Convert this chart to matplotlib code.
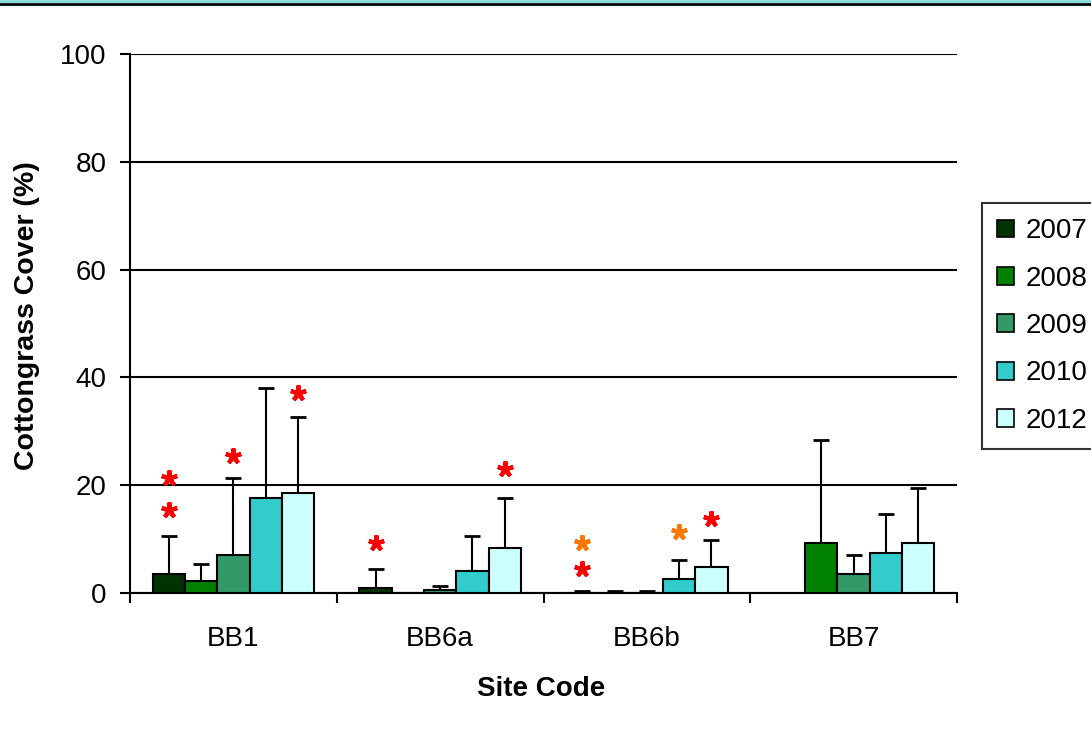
import numpy as np
import matplotlib
matplotlib.use("Agg")
import matplotlib.pyplot as plt
from matplotlib.lines import Line2D

plt.rcParams['font.family'] = ['Liberation Sans', 'DejaVu Sans']

sites = ["BB1", "BB6a", "BB6b", "BB7"]
years = ["2007", "2008", "2009", "2010", "2012"]
colors = ["#003300", "#008000", "#339966", "#33CCCC", "#CCFFFF"]

# mean cover (%) per year, one value per site
mean_2007 = [3.5, 1.0, 0.0, np.nan]
mean_2008 = [2.2, 0.0, 0.0, 9.2]
mean_2009 = [7.0, 0.5, 0.0, 3.5]
mean_2010 = [17.7, 4.0, 2.6, 7.5]
mean_2012 = [18.6, 8.4, 4.9, 9.2]

# upper error (SD) per year
err_2007 = [7.1, 3.4, 0.4, np.nan]
err_2008 = [3.1, 0.0, 0.4, 19.1]
err_2009 = [14.3, 0.8, 0.4, 3.6]
err_2010 = [20.3, 6.6, 3.6, 7.1]
err_2012 = [14.1, 9.3, 4.9, 10.2]

means = [mean_2007, mean_2008, mean_2009, mean_2010, mean_2012]
errs = [err_2007, err_2008, err_2009, err_2010, err_2012]

# significance asterisks: (site index, year index, y value, colour)
star_site = [0, 0, 0, 0, 1, 1, 2, 2, 2, 2]
star_year = [0, 0, 2, 4, 0, 4, 0, 0, 3, 4]
star_y = [15.4, 21.3, 25.4, 37.1, 9.3, 23.0, 4.5, 9.3, 11.3, 13.7]
star_col = ["red", "red", "red", "red", "red", "red", "red", "#FF7700", "#FF7700", "red"]

fig = plt.figure(figsize=(10.91, 7.38), dpi=100)
ax = fig.add_axes([130/1091, 1-593/738, (957-130)/1091, (593-54)/738])

width = 0.156
x = np.arange(len(sites))
lw = 1.5
for j, (m, e) in enumerate(zip(means, errs)):
    pos = x + 0.5 + (j - 2) * width
    m = np.array(m, dtype=float)
    e = np.array(e, dtype=float)
    ax.bar(pos, m, width=width, color=colors[j], edgecolor="black",
           linewidth=lw, label=years[j], zorder=3)
    ax.errorbar(pos, m, yerr=[np.zeros_like(e), e], fmt="none",
                ecolor="black", elinewidth=lw, capsize=6, capthick=2.0, zorder=2)

for s, yi, yv, c in zip(star_site, star_year, star_y, star_col):
    ax.plot(s + 0.5 + (yi - 2) * width, yv, linestyle="none",
            marker=(5, 2, 0), markersize=11.5, markeredgewidth=3.0,
            color=c, markeredgecolor=c, zorder=5)

ax.set_xlim(0, 4)
ax.set_ylim(0, 100)
ax.set_yticks([0, 20, 40, 60, 80, 100])
ax.yaxis.grid(True, color="black", linewidth=lw)
ax.set_axisbelow(True)
for side in ["top", "right"]:
    ax.spines[side].set_visible(False)
for side in ["left", "bottom"]:
    ax.spines[side].set_linewidth(lw)
ax.tick_params(axis="y", direction="out", length=7, width=lw, pad=10, labelsize=20)
ax.set_xticks([0, 1, 2, 3, 4])
ax.set_xticklabels([])
ax.tick_params(axis="x", which="major", direction="out", length=7, width=lw)
ax.set_xticks(x + 0.5, minor=True)
ax.set_xticklabels(sites, minor=True)
ax.tick_params(axis="x", which="minor", length=0, pad=24, labelsize=20)

fig.text(27/1091, 1-316/738, "Cottongrass Cover (%)", rotation=90, ha="center",
         va="center", fontsize=20.5, fontweight="bold")
fig.text(541/1091, 1-689/738, "Site Code", ha="center", va="center",
         fontsize=20, fontweight="bold")

leg = ax.legend(loc="upper left", bbox_to_anchor=(982/1091, 1-203/738),
                bbox_transform=fig.transFigure, fontsize=20, frameon=True,
                fancybox=False, edgecolor="black", borderaxespad=0,
                handlelength=0.61, handleheight=0.61, handletextpad=0.42,
                labelspacing=0.77, borderpad=0.55)
leg.get_frame().set_linewidth(lw)
for h in leg.legend_handles:
    h.set_linewidth(1.2)

fig.add_artist(Line2D([0, 1], [1-1.2/738, 1-1.2/738], color="#7AD4D4", linewidth=1.8,
                      transform=fig.transFigure))
fig.add_artist(Line2D([0, 1], [1-4.0/738, 1-4.0/738], color="black", linewidth=2.0,
                      transform=fig.transFigure))

fig.savefig("out.png", dpi=100)
